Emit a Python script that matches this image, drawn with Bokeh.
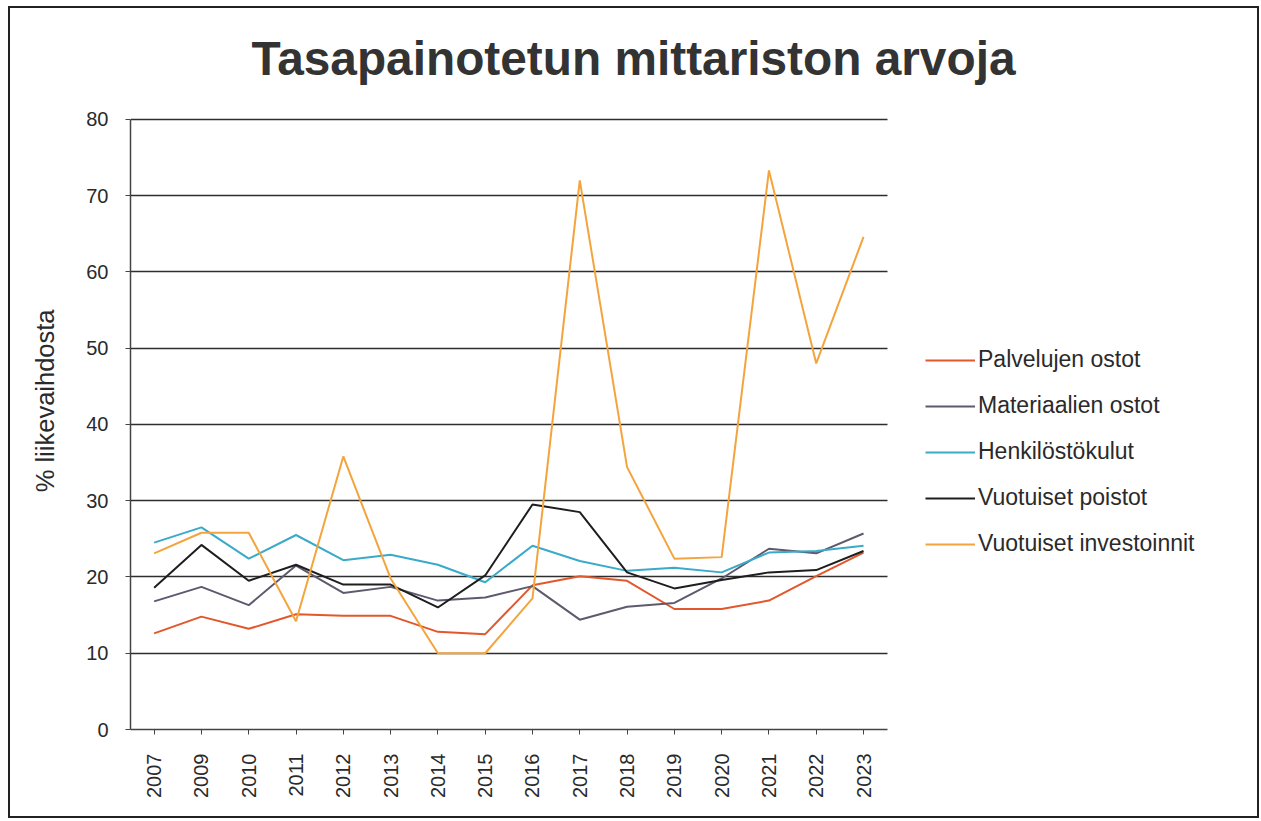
import math
from bokeh.plotting import figure
from bokeh.models import Range1d, FixedTicker, Legend, LegendItem, Label, Grid
from bokeh.embed import file_html
from bokeh.resources import INLINE

years = ["2007", "2009", "2010", "2011", "2012", "2013", "2014", "2015",
         "2016", "2017", "2018", "2019", "2020", "2021", "2022", "2023"]
palvelujen_ostot = [12.6, 14.8, 13.2, 15.1, 14.9, 14.9, 12.8, 12.5,
                    18.9, 20.1, 19.5, 15.8, 15.8, 16.9, 20.1, 23.2]
materiaalien_ostot = [16.8, 18.7, 16.3, 21.5, 17.9, 18.7, 16.9, 17.3,
                      18.8, 14.4, 16.1, 16.6, 19.8, 23.7, 23.1, 25.7]
henkilostokulut = [24.5, 26.5, 22.4, 25.5, 22.2, 22.9, 21.6, 19.3,
                   24.1, 22.1, 20.8, 21.2, 20.6, 23.2, 23.4, 24.1]
vuotuiset_poistot = [18.6, 24.2, 19.5, 21.6, 19.0, 19.0, 16.0, 20.2,
                     29.5, 28.5, 20.6, 18.5, 19.6, 20.6, 20.9, 23.4]
vuotuiset_investoinnit = [23.1, 25.8, 25.8, 14.2, 35.8, 19.8, 10.0, 10.0,
                          17.2, 72.0, 34.4, 22.4, 22.6, 73.3, 48.0, 64.6]

series_names = ["Palvelujen ostot", "Materiaalien ostot", "Henkilöstökulut",
                "Vuotuiset poistot", "Vuotuiset investoinnit"]
series_values = [palvelujen_ostot, materiaalien_ostot, henkilostokulut,
                 vuotuiset_poistot, vuotuiset_investoinnit]
series_colors = ["#E2572B", "#5E5A6E", "#3AAAC9", "#1E1E1E", "#F4A43C"]
y_ticks = [0, 10, 20, 30, 40, 50, 60, 70, 80]

FONT = "Liberation Sans"

x_idx = list(range(len(years)))
x_lo, x_hi = -0.5, len(years) - 0.5
x_view_end = x_hi + 7.873      # empty space on the right for the legend
y_lo, y_hi = y_ticks[0], y_ticks[-1]
y_view_end = 94.53             # empty space on top for the title

p = figure(width=1251, height=812, title=None,
           x_range=Range1d(x_lo, x_view_end), y_range=Range1d(y_lo, y_view_end),
           output_backend="svg", toolbar_location=None,
           min_border_left=120, min_border_right=2, min_border_top=0,
           min_border_bottom=91)
p.margin = (6, 0, 0, 8)
p.styles = {"border": "2px solid #222"}
p.outline_line_color = None
p.background_fill_color = "white"
p.border_fill_color = "white"

yt = FixedTicker(ticks=y_ticks)
p.yaxis.ticker = yt
p.xaxis.ticker = FixedTicker(ticks=x_idx)
p.xaxis.major_label_overrides = {i: y for i, y in zip(x_idx, years)}
p.xaxis.bounds = (x_lo, x_hi)
p.yaxis.bounds = (y_lo, y_hi)

p.xgrid.grid_line_color = None
ygrid = p.ygrid[0]
ygrid.ticker = yt
if "cross_bounds" in Grid.properties():
    ygrid.cross_bounds = (x_lo, x_hi)
    ygrid.grid_line_color = "#2e2e2e"
    ygrid.grid_line_width = 1.6
else:
    ygrid.grid_line_color = None
    p.segment(x0=x_lo, x1=x_hi, y0=y_ticks, y1=y_ticks,
              line_color="#2e2e2e", line_width=1.6)

for ax in (p.xaxis[0], p.yaxis[0]):
    ax.axis_line_color = "#444444"
    ax.axis_line_width = 1.5
    ax.major_tick_line_color = "#444444"
    ax.major_tick_in = 0
    ax.major_tick_out = 5
    ax.minor_tick_line_color = None
    ax.major_label_text_font = FONT
    ax.major_label_text_font_size = "20px"
    ax.major_label_text_color = "#2a2a2a"

p.yaxis.major_label_standoff = 17
# trailing no-break spaces lower the visible label to sit beside the plotted range
p.yaxis.axis_label = "% liikevaihdosta" + "\u00a0" * 9
p.yaxis.axis_label_standoff = 24
p.yaxis.axis_label_text_font = FONT
p.yaxis.axis_label_text_font_style = "normal"
p.yaxis.axis_label_text_font_size = "25.5px"
p.yaxis.axis_label_text_color = "#2a2a2a"

p.xaxis.major_label_orientation = math.pi / 2
p.xaxis.major_label_standoff = 19

items = []
for name, vals, col in zip(series_names, series_values, series_colors):
    r = p.line(x_idx, vals, line_color=col, line_width=2)
    items.append(LegendItem(label=name, renderers=[r]))

legend = Legend(items=items, location=(795, 172), padding=0, margin=0,
                glyph_width=50, glyph_height=26, label_height=26,
                spacing=19, label_standoff=3,
                label_text_font=FONT, label_text_font_size="23px",
                label_text_color="#2a2a2a", border_line_color=None,
                background_fill_alpha=0)
p.add_layout(legend, "center")

p.add_layout(Label(x=503, y=671, x_units="screen", y_units="screen",
                   text="Tasapainotetun mittariston arvoja",
                   text_font=FONT, text_font_style="bold",
                   text_font_size="47.8px", text_color="#333333",
                   text_align="center", text_baseline="alphabetic"))

open("out.html", "w").write(file_html(p, INLINE))
